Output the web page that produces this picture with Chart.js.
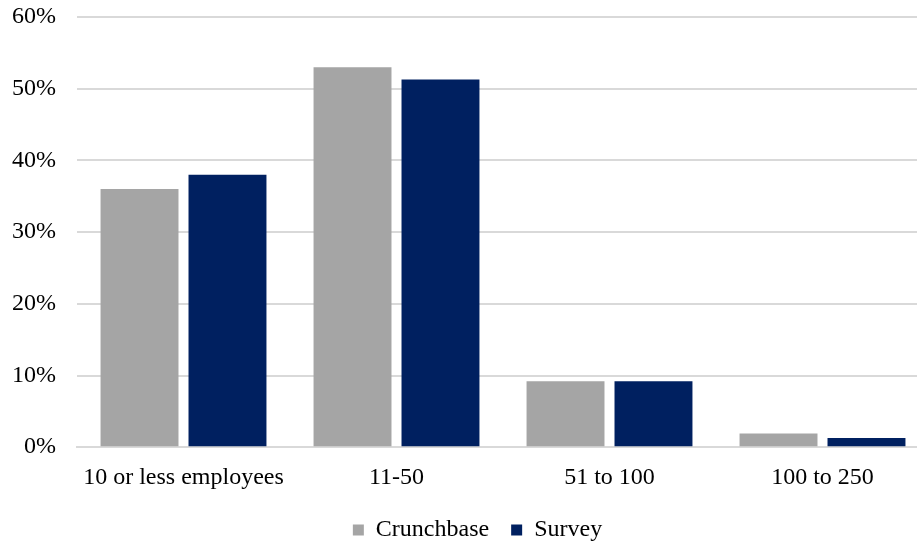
<!DOCTYPE html>
<html>
<head>
<meta charset="utf-8">
<script src="https://cdn.jsdelivr.net/npm/chart.js@4.4.1/dist/chart.umd.min.js"></script>
<style>
  html, body { margin: 0; padding: 0; background: #fff; }
  #wrap { width: 917px; height: 546px; overflow: hidden; }
</style>
</head>
<body>
<div id="wrap"><canvas id="grafico" width="929" height="546"></canvas></div>
<script>
// tamaño de empresa, en % del total
const categorias = ['10 or less employees', '11-50', '51 to 100', '100 to 250']
const crunchbase = [36, 53, 9.2, 1.9]
const survey = [38, 51.3, 9.2, 1.3]
const marcasY = [0, 10, 20, 30, 40, 50, 60]

const fuente = { family: "'Liberation Serif', 'Times New Roman', serif", size: 24 }

// mueve la leyenda un poco a la derecha y arriba
const moverLeyenda = {
    id: 'moverLeyenda',
    afterLayout(chart) {
        const ley = chart.legend
        ley.left += 13
        ley.right += 13
        ley.top -= 4
        ley.bottom -= 4
    }
}

const ctx = document.getElementById('grafico').getContext('2d')
new Chart(ctx, {
    type: 'bar',
    data: {
        labels: categorias,
        datasets: [{
            label: 'Crunchbase',
            data: crunchbase,
            backgroundColor: '#a5a5a5'
        }, {
            label: 'Survey',
            data: survey,
            backgroundColor: '#002060'
        }]
    },
    plugins: [moverLeyenda],
    options: {
        responsive: false,
        animation: false,
        layout: { padding: { left: 0, right: 0, top: 17, bottom: -10 } },
        datasets: {
            bar: { categoryPercentage: 0.826, barPercentage: 0.886 }
        },
        plugins: {
            legend: {
                position: 'bottom',
                labels: {
                    color: '#000',
                    font: fuente,
                    boxWidth: 11,
                    boxHeight: 11,
                    padding: 22
                }
            },
            tooltip: { enabled: false }
        },
        scales: {
            x: {
                grid: { display: false },
                border: { color: '#d9d9d9', width: 2 },
                ticks: { color: '#000', font: fuente, padding: 8 }
            },
            y: {
                min: 0,
                max: 60,
                afterBuildTicks: axis => { axis.ticks = marcasY.map(v => ({ value: v })) },
                afterFit: axis => {
                    // ancho fijo del eje y sin margen extra arriba
                    axis.width = 77
                    axis.paddingTop = 0
                    axis.paddingBottom = 0
                },
                grid: { color: '#d9d9d9', lineWidth: 2, drawTicks: false },
                border: { display: false },
                ticks: { color: '#000', font: fuente, padding: 21, callback: v => v + '%' }
            }
        }
    }
})
</script>
</body>
</html>
